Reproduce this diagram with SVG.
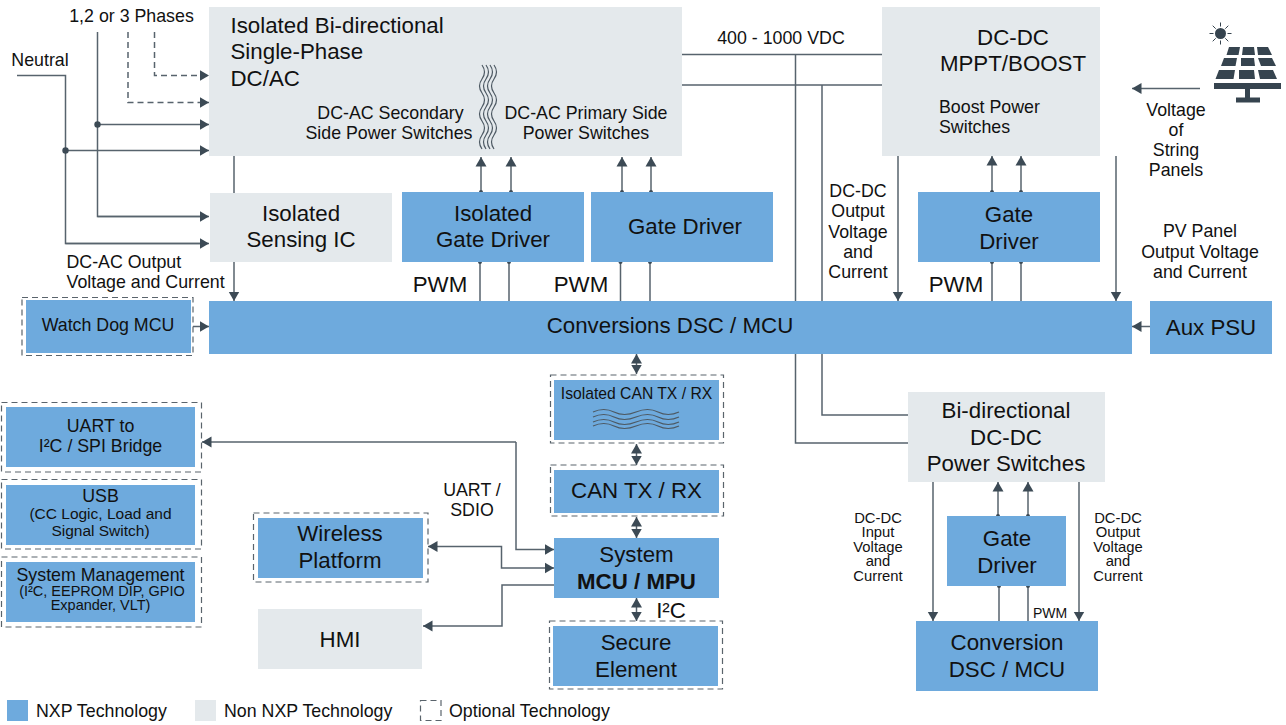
<svg xmlns="http://www.w3.org/2000/svg" width="1286" height="725" viewBox="0 0 1286 725">
<style>
text{font-family:"Liberation Sans",Arial,sans-serif;fill:#111;text-anchor:middle}
.s{font-size:17.800px}.m{font-size:17.800px}.l{font-size:22.300px}.x{font-size:14.800px}.sub{font-size:15.500px}.t{font-size:14.500px}
.st{text-anchor:start}
.nxp{fill:#6eaadd}.non{fill:#e4e9ec}
.opt{fill:none;stroke:#5a646c;stroke-width:1.2;stroke-dasharray:6 4}
.c{fill:none;stroke:#57636d;stroke-width:1.5}
.a{marker-end:url(#ah)}
.b{marker-start:url(#as);marker-end:url(#as)}
.d{stroke-dasharray:6 4}
.w{fill:none;stroke:#4d5963;stroke-width:1.2}
</style>
<defs>
<marker id="ah" markerUnits="userSpaceOnUse" markerWidth="12" markerHeight="12" refX="9.500" refY="6" orient="auto"><path d="M0 .5L9.500 6L0 11.500Z" fill="#3c4a55"/></marker>
<marker id="as" markerUnits="userSpaceOnUse" markerWidth="12" markerHeight="12" refX="9.500" refY="6" orient="auto-start-reverse"><path d="M0 .5L9.500 6L0 11.500Z" fill="#3c4a55"/></marker>
</defs>
<g id="connectors">
<path class="c" d="M17 75.500H65.500V243.500H200"/>
<path class="c a" d="M65.500 150.500H209"/>
<path class="c" d="M97.500 32V216.500H200"/>
<path class="c a" d="M97.500 124.500H209"/>
<path class="c a" d="M97.500 216.500H209"/>
<path class="c a" d="M65.500 243.500H209"/>
<path class="c d a" d="M154.500 32V75.500H209"/>
<path class="c d a" d="M128 32V102.500H209"/>
<path class="c" d="M234 156V193"/>
<path class="c a" d="M234 262V301"/>
<path class="c a" d="M193 326.500H209"/>
<path class="c a" d="M481 192V157"/><path class="c a" d="M511 192V157"/>
<path class="c a" d="M622 192V157"/><path class="c a" d="M651 192V157"/>
<path class="c" d="M480 262V301M509 262V301M620.500 262V301M650 262V301"/>
<path class="c" d="M682 54.500H882M682 85H882"/>
<path class="c" d="M795.500 54.500V443H908"/>
<path class="c" d="M822 85V415H908"/>
<path class="c a" d="M898 156V301"/>
<path class="c a" d="M992 192V156"/><path class="c a" d="M1021 192V156"/>
<path class="c" d="M992 262V301M1021 262V301"/>
<path class="c a" d="M1116 156V301"/>
<path class="c a" d="M1200 88.500H1132"/>
<path class="c a" d="M1150 326.500H1132"/>
<path class="c a" d="M933 482V621"/>
<path class="c a" d="M1079 482V621"/>
<path class="c a" d="M998 516V482"/><path class="c a" d="M1028 516V482"/>
<path class="c" d="M999 586V621M1028 586V621"/>
<path class="c b" d="M636.500 354V374"/>
<path class="c b" d="M636.500 444V465"/>
<path class="c b" d="M636.500 517V538"/>
<path class="c b" d="M636.500 598V621"/>
<path class="c a" d="M516 442H202"/>
<path class="c a" d="M516 442V549.500H554"/>
<path class="c b" d="M428 546.500H501.500V568H554"/>
<path class="c a" d="M554 585H502V626H423"/>
</g>
<g fill="#3c4a55" id="dots">
<circle cx="97.500" cy="124.500" r="3.200"/><circle cx="65.500" cy="150.500" r="3.200"/>
<circle cx="481" cy="192" r="2"/><circle cx="511" cy="192" r="2"/><circle cx="622" cy="192" r="2"/><circle cx="651" cy="192" r="2"/>
<circle cx="480" cy="262" r="2"/><circle cx="509" cy="262" r="2"/><circle cx="620.500" cy="262" r="2"/><circle cx="650" cy="262" r="2"/>
<circle cx="992" cy="192" r="2"/><circle cx="1021" cy="192" r="2"/><circle cx="992" cy="262" r="2"/><circle cx="1021" cy="262" r="2"/>
<circle cx="998" cy="516" r="2"/><circle cx="1028" cy="516" r="2"/><circle cx="999" cy="586" r="2"/><circle cx="1028" cy="586" r="2"/>
</g>
<g id="n-dcac"><rect class="non" x="209" y="7" width="473" height="149"/>
<text class="l st" x="230.500" y="33">Isolated Bi-directional</text><text class="l st" x="230.500" y="59">Single-Phase</text><text class="l st" x="230.500" y="86">DC/AC</text>
<text class="s" x="390.500" y="119">DC-AC Secondary</text><text class="s" x="389" y="139">Side Power Switches</text>
<text class="s" x="586" y="119">DC-AC Primary Side</text><text class="s" x="586" y="139">Power Switches</text>
<path class="w" d="M482 65q5 7 0 14t0 14 0 14 0 14 0 14 0 14M486 65q5 7 0 14t0 14 0 14 0 14 0 14 0 14M490 65q5 7 0 14t0 14 0 14 0 14 0 14 0 14M494 65q5 7 0 14t0 14 0 14 0 14 0 14 0 14"/>
</g>
<g id="n-sensing"><rect class="non" x="210" y="193" width="182" height="69"/><text class="l" x="301" y="221">Isolated</text><text class="l" x="301" y="247">Sensing IC</text></g>
<g id="n-igd"><rect class="nxp" x="402" y="192" width="182" height="70"/><text class="l" x="493" y="221">Isolated</text><text class="l" x="493" y="247">Gate Driver</text></g>
<g id="n-gd1"><rect class="nxp" x="591" y="192" width="182" height="70"/><text class="l" x="685" y="234">Gate Driver</text></g>
<g id="n-conv"><rect class="nxp" x="209" y="301" width="923" height="53"/><text class="l" x="670" y="333">Conversions DSC / MCU</text></g>
<g id="n-wd"><rect class="opt" x="22" y="297.500" width="171" height="58"/><rect class="nxp" x="26" y="300" width="165" height="53"/><text class="s" x="108" y="331">Watch Dog MCU</text></g>
<g id="n-aux"><rect class="nxp" x="1150" y="301" width="122" height="53"/><text class="l" x="1211" y="335">Aux PSU</text></g>
<g id="n-mppt"><rect class="non" x="882" y="7" width="218" height="149"/><text class="l" x="1013" y="45">DC-DC</text><text class="l" x="1013" y="71">MPPT/BOOST</text>
<text class="s st" x="939" y="113">Boost Power</text><text class="s st" x="939" y="133">Switches</text></g>
<g id="n-gd2"><rect class="nxp" x="918" y="192" width="182" height="70"/><text class="l" x="1009" y="222">Gate</text><text class="l" x="1009" y="249">Driver</text></g>
<g id="n-icant"><rect class="opt" x="550.500" y="375" width="173" height="68"/><rect class="nxp" x="554" y="380" width="165" height="60"/><text x="636.500" y="399" style="font-size:15.700px">Isolated CAN TX / RX</text>
<path class="w" d="M593 412q11-5 21 0t22 0 22 0 21 0M593 417q11-5 21 0t22 0 22 0 21 0M593 422q11-5 21 0t22 0 22 0 21 0M593 426q11-5 21 0t22 0 22 0 21 0"/></g>
<g id="n-can"><rect class="opt" x="550.500" y="465" width="173" height="51"/><rect class="nxp" x="554" y="470" width="165" height="43"/><text class="l" x="636.500" y="498">CAN TX / RX</text></g>
<g id="n-sys"><rect class="nxp" x="554" y="538" width="165" height="60"/><text class="l" x="636.500" y="562">System</text><text class="l" x="636.500" y="589" font-weight="bold">MCU / MPU</text></g>
<g id="n-sec"><rect class="opt" x="549.500" y="621" width="173" height="68"/><rect class="nxp" x="553" y="626" width="165" height="60"/><text class="l" x="636" y="650">Secure</text><text class="l" x="636" y="677">Element</text></g>
<g id="n-uart"><rect class="opt" x="1.500" y="402.500" width="200" height="69.500"/><rect class="nxp" x="6" y="407" width="189" height="60"/><text class="m" x="100.500" y="432">UART to</text><text class="m" x="100.500" y="452">I²C / SPI Bridge</text></g>
<g id="n-usb"><rect class="opt" x="1.500" y="479.500" width="200" height="69.500"/><rect class="nxp" x="6" y="485" width="189" height="60"/><text class="m" x="100.500" y="502">USB</text><text class="sub" x="100.500" y="519">(CC Logic, Load and</text><text class="sub" x="100.500" y="536">Signal Switch)</text></g>
<g id="n-mgmt"><rect class="opt" x="1.500" y="557" width="200" height="70"/><rect class="nxp" x="6" y="562" width="189" height="60"/><text class="m" x="100.500" y="581">System Management</text><text class="t" x="102" y="596">(I²C, EEPROM DIP, GPIO</text><text class="t" x="100.500" y="610">Expander, VLT)</text></g>
<g id="n-wifi"><rect class="opt" x="253.500" y="513" width="174.500" height="69"/><rect class="nxp" x="258" y="518" width="165" height="60"/><text class="l" x="340" y="541">Wireless</text><text class="l" x="340" y="568">Platform</text></g>
<g id="n-hmi"><rect class="non" x="258" y="609" width="164" height="60"/><text class="l" x="340" y="647">HMI</text></g>
<g id="n-bidir"><rect class="non" x="908" y="392" width="197" height="90"/><text class="l" x="1006" y="418">Bi-directional</text><text class="l" x="1006" y="445">DC-DC</text><text class="l" x="1006" y="471">Power Switches</text></g>
<g id="n-gd3"><rect class="nxp" x="947" y="516" width="119" height="70"/><text class="l" x="1007" y="546">Gate</text><text class="l" x="1007" y="573">Driver</text></g>
<g id="n-cdsc"><rect class="nxp" x="916" y="621" width="182" height="70"/><text class="l" x="1007" y="650">Conversion</text><text class="l" x="1007" y="677">DSC / MCU</text></g>
<g id="solar" fill="#36444f">
<circle cx="1220.500" cy="33.500" r="5.500"/>
<path d="M1220.500 22.500v4M1220.500 40.500v4M1209.500 33.500h4M1227.500 33.500h4M1212.700 25.700l3 3M1225.300 38.300l3 3M1228.300 25.700l-3 3M1215.700 38.300l-3 3" stroke="#36444f" stroke-width="1" fill="none"/>
<path d="M1229 47h11l-1.500 8h-12zM1243 47h11l1 8h-13zM1257 47h11l4 8h-14zM1224 58h13l-1.500 8h-14.500zM1241 58h13l1 8h-14zM1258 58h14l4 8h-15zM1219 70h16l-1.500 9h-18zM1239 70h15l1 9h-16zM1258 70h15l4 9h-17z"/>
<path d="M1214 83h67v6h-67zM1245 89h5v9h-5zM1236 97.500h24v5h-24z"/>
</g>
<g id="labels">
<text class="s" x="131.500" y="22">1,2 or 3 Phases</text>
<text class="s" x="40" y="66">Neutral</text>
<text class="s st" x="66.500" y="268">DC-AC Output</text><text class="s st" x="66.500" y="288">Voltage and Current</text>
<text class="s" x="781" y="44">400 - 1000 VDC</text>
<text class="s" x="1176" y="116">Voltage</text><text class="s" x="1176" y="136">of</text><text class="s" x="1176" y="156">String</text><text class="s" x="1176" y="176">Panels</text>
<text class="s" x="858" y="197">DC-DC</text><text class="s" x="858" y="217">Output</text><text class="s" x="858" y="238">Voltage</text><text class="s" x="858" y="258">and</text><text class="s" x="858" y="278">Current</text>
<text class="s" x="1200" y="237">PV Panel</text><text class="s" x="1200" y="258">Output Voltage</text><text class="s" x="1200" y="278">and Current</text>
<text class="l" x="440" y="292">PWM</text><text class="l" x="581" y="292">PWM</text><text class="l" x="956" y="292">PWM</text>
<text class="s" x="472" y="496">UART /</text><text class="s" x="472" y="516">SDIO</text>
<text class="l" x="671" y="618">I²C</text>
<text class="x" x="878" y="523">DC-DC</text><text class="x" x="878" y="537">Input</text><text class="x" x="878" y="552">Voltage</text><text class="x" x="878" y="566">and</text><text class="x" x="878" y="581">Current</text>
<text class="x" x="1118" y="523">DC-DC</text><text class="x" x="1118" y="537">Output</text><text class="x" x="1118" y="552">Voltage</text><text class="x" x="1118" y="566">and</text><text class="x" x="1118" y="581">Current</text>
<text x="1050" y="618" style="font-size:14px">PWM</text>
</g>
<g id="legend">
<rect class="nxp" x="7" y="700" width="21" height="21"/><text class="m st" x="36" y="717">NXP Technology</text>
<rect class="non" x="195" y="700" width="21" height="21"/><text class="m st" x="224" y="717">Non NXP Technology</text>
<rect class="opt" x="420.500" y="700.500" width="20.500" height="20"/><text class="m st" x="449" y="717">Optional Technology</text>
</g>
</svg>
